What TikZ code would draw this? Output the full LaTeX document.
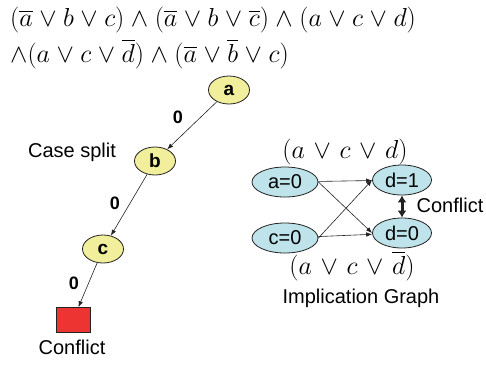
\RequirePackage{fix-cm}
\documentclass[tikz,border=0pt]{standalone}
\usepackage{amsmath,amssymb}
\usepackage{fontspec}
\setmainfont{Liberation Sans}
\usetikzlibrary{arrows.meta, positioning, shapes.geometric}
\definecolor{splityel}{HTML}{F2EF9C}
\definecolor{implblue}{HTML}{BEE3EA}
\definecolor{clashred}{HTML}{EE3333}
\definecolor{inkgray}{HTML}{222222}

\begin{document}
\begin{tikzpicture}[
  x=1pt, y=-1pt,
  >={Latex[length=6pt, width=4.5pt]},
  casenode/.style={
    ellipse, draw=inkgray, line width=0.8pt, fill=splityel, inner sep=0pt,
    minimum width=41pt, minimum height=28pt, font=\fontsize{19}{20}\selectfont\bfseries
  },
  implnode/.style={
    ellipse, draw=inkgray, line width=0.8pt, fill=implblue, inner sep=0pt,
    minimum height=30pt, font=\fontsize{20}{22}\selectfont
  },
  zerolbl/.style={font=\fontsize{18}{20}\selectfont\bfseries},
  txt/.style={font=\fontsize{20}{22}\selectfont},
  clause/.style={font=\fontsize{26}{28}\selectfont, inner sep=0pt},
  edge/.style={->, line width=0.6pt, inkgray},
]

\useasboundingbox (0,0) rectangle (486,365);

% Formula
\node[clause, anchor=base west] (line1) at (10,26)
  {$\medmuskip=4.5mu (\overline{a}\vee b\vee c)\wedge(\overline{a}\vee b\vee \overline{c})\wedge(a\vee c\vee d)$};
\node[clause, anchor=base west] (line2) at (10,62)
  {$\medmuskip=4.5mu \wedge(a\vee c\vee \overline{d})\wedge(\overline{a}\vee \overline{b}\vee c)$};

% =============================================
% Case split tree
% =============================================
\node[casenode] (a) at (229,90) {a};
\node[casenode] (b) at (155,161) {b};
\node[casenode] (c) at (103,249) {c};
\node[draw=inkgray, line width=0.6pt, fill=clashred, minimum width=34pt,
      minimum height=25pt, inner sep=0pt] (clash) at (73,320) {};

\draw[edge] (a) -- (b);
\draw[edge] (b) -- (c);
\draw[edge] (c) -- (clash);

\node[zerolbl] (z1) at (178,117) {0};
\node[zerolbl] (z2) at (115,203) {0};
\node[zerolbl] (z3) at (74,283) {0};

\node[txt] (split) at (72,152) {Case split};
\node[txt] (clashtxt) at (72,347) {Conflict};

% =============================================
% Implication graph
% =============================================
\node[implnode, minimum width=66pt] (a0) at (285,182) {a=0};
\node[implnode, minimum width=66pt] (c0) at (285,238) {c=0};
\node[implnode, minimum width=59pt] (d1) at (402,180) {d=1};
\node[implnode, minimum width=59pt] (d0) at (402,233) {d=0};

\draw[edge] (a0) -- (d1);
\draw[edge] (a0.east) -- (d0.west);
\draw[edge] (c0.east) -- (d1.west);
\draw[edge] (c0) -- (d0);
\draw[<->, line width=3pt, inkgray, >={Latex[length=7pt, width=9pt]}] (d1) -- (d0);

\node[clause] (top) at (345,152) {$\medmuskip=6mu (a\vee c\vee d)$};
\node[clause] (bot) at (352,266) {$\medmuskip=6mu (a\vee c\vee \overline{d})$};
\node[txt] (conf) at (450,205) {Conflict};
\node[txt] (title) at (361,298) {Implication Graph};

\end{tikzpicture}
\end{document}
